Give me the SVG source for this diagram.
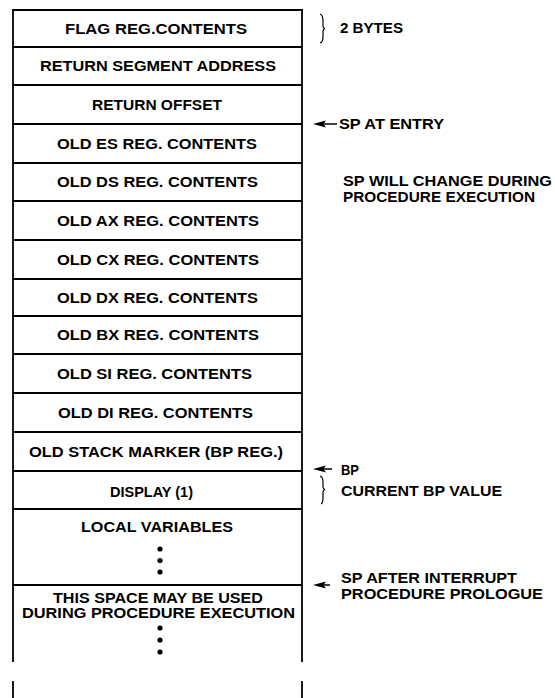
<svg xmlns="http://www.w3.org/2000/svg" width="555" height="698" viewBox="0 0 555 698">
<style>
.ln{stroke:#000;stroke-width:1.8;fill:none}
.t{font-family:"Liberation Sans",Arial,sans-serif;font-weight:bold;font-size:14.5px;fill:#000;text-anchor:middle}
.r{font-family:"Liberation Sans",Arial,sans-serif;font-weight:bold;font-size:15px;fill:#000}
.br{stroke:#000;stroke-width:1.2;fill:none}
.dot{fill:#000}
.ar{stroke:#000;stroke-width:1.5;fill:none}
.ah{fill:#000}
</style>
<rect width="555" height="698" fill="#fff"/>
<g id="frame">
<line class="ln" x1="13" y1="10" x2="13" y2="662"/>
<line class="ln" x1="302" y1="10" x2="302" y2="662"/>
<line class="ln" x1="13" y1="681" x2="13" y2="698"/>
<line class="ln" x1="302" y1="681" x2="302" y2="698"/>
<line class="ln" x1="12" y1="10" x2="303" y2="10"/>
</g>
<g id="n1"><line class="ln" x1="13" y1="47" x2="302" y2="47"/><text class="t" x="156" y="33.5" textLength="182" lengthAdjust="spacingAndGlyphs">FLAG REG.CONTENTS</text></g>
<g id="n2"><line class="ln" x1="13" y1="85" x2="302" y2="85"/><text class="t" x="158" y="71" textLength="236" lengthAdjust="spacingAndGlyphs">RETURN SEGMENT ADDRESS</text></g>
<g id="n3"><line class="ln" x1="13" y1="124" x2="302" y2="124"/><text class="t" x="157" y="109.5" textLength="130" lengthAdjust="spacingAndGlyphs">RETURN OFFSET</text></g>
<g id="n4"><line class="ln" x1="13" y1="163" x2="302" y2="163"/><text class="t" x="157" y="148.5" textLength="200" lengthAdjust="spacingAndGlyphs">OLD ES REG. CONTENTS</text></g>
<g id="n5"><line class="ln" x1="13" y1="201" x2="302" y2="201"/><text class="t" x="157.5" y="187" textLength="201" lengthAdjust="spacingAndGlyphs">OLD DS REG. CONTENTS</text></g>
<g id="n6"><line class="ln" x1="13" y1="240" x2="302" y2="240"/><text class="t" x="158" y="225.5" textLength="202" lengthAdjust="spacingAndGlyphs">OLD AX REG. CONTENTS</text></g>
<g id="n7"><line class="ln" x1="13" y1="279" x2="302" y2="279"/><text class="t" x="158" y="264.5" textLength="202" lengthAdjust="spacingAndGlyphs">OLD CX REG. CONTENTS</text></g>
<g id="n8"><line class="ln" x1="13" y1="316" x2="302" y2="316"/><text class="t" x="157.5" y="302.5" textLength="201" lengthAdjust="spacingAndGlyphs">OLD DX REG. CONTENTS</text></g>
<g id="n9"><line class="ln" x1="13" y1="354" x2="302" y2="354"/><text class="t" x="158" y="340" textLength="202" lengthAdjust="spacingAndGlyphs">OLD BX REG. CONTENTS</text></g>
<g id="n10"><line class="ln" x1="13" y1="393" x2="302" y2="393"/><text class="t" x="154.5" y="378.5" textLength="195" lengthAdjust="spacingAndGlyphs">OLD SI REG. CONTENTS</text></g>
<g id="n11"><line class="ln" x1="13" y1="432" x2="302" y2="432"/><text class="t" x="155.5" y="417.5" textLength="195" lengthAdjust="spacingAndGlyphs">OLD DI REG. CONTENTS</text></g>
<g id="n12"><line class="ln" x1="13" y1="471" x2="302" y2="471"/><text class="t" x="156" y="456.5" textLength="254" lengthAdjust="spacingAndGlyphs">OLD STACK MARKER (BP REG.)</text></g>
<g id="n13"><line class="ln" x1="13" y1="509" x2="302" y2="509"/><text class="t" x="151.5" y="497" textLength="83" lengthAdjust="spacingAndGlyphs">DISPLAY (1)</text></g>
<g id="n14"><line class="ln" x1="13" y1="585" x2="302" y2="585"/><text class="t" x="157" y="532" textLength="152" lengthAdjust="spacingAndGlyphs">LOCAL VARIABLES</text>
<circle class="dot" cx="160" cy="549" r="2.6"/><circle class="dot" cx="160" cy="560.5" r="2.6"/><circle class="dot" cx="160" cy="572" r="2.6"/></g>
<g id="n15"><text class="t" x="158" y="602.5" textLength="210" lengthAdjust="spacingAndGlyphs">THIS SPACE MAY BE USED</text><text class="t" x="158.5" y="618" textLength="273" lengthAdjust="spacingAndGlyphs">DURING PROCEDURE EXECUTION</text>
<circle class="dot" cx="160" cy="628" r="2.6"/><circle class="dot" cx="160" cy="640" r="2.6"/><circle class="dot" cx="160" cy="652" r="2.6"/></g>
<g id="lbl-bytes"><path class="br" d="M320,14 Q323,15 323,21 L323,26 Q323,28 325,28.5 Q323,29 323,31 L323,37 Q323,42 320,43"/><text class="r" x="340" y="33" textLength="63" lengthAdjust="spacingAndGlyphs">2 BYTES</text></g>
<g id="lbl-entry"><text class="r" x="339" y="129" textLength="105" lengthAdjust="spacingAndGlyphs">SP AT ENTRY</text></g>
<g id="lbl-change"><text class="r" x="343" y="186" textLength="209" lengthAdjust="spacingAndGlyphs">SP WILL CHANGE DURING</text><text class="r" x="343" y="202" textLength="192" lengthAdjust="spacingAndGlyphs">PROCEDURE EXECUTION</text></g>
<g id="lbl-bp"><text class="r" x="341" y="475" textLength="18" lengthAdjust="spacingAndGlyphs">BP</text><path class="br" d="M320,476 Q323,477 323,482 L323,487 Q323,489 325,489.5 Q323,490 323,492 L323,498 Q323,503 321,504"/><text class="r" x="341" y="495.5" textLength="161" lengthAdjust="spacingAndGlyphs">CURRENT BP VALUE</text></g>
<g id="lbl-sp"><text class="r" x="341" y="582.5" textLength="176" lengthAdjust="spacingAndGlyphs">SP AFTER INTERRUPT</text><text class="r" x="341" y="598.5" textLength="202" lengthAdjust="spacingAndGlyphs">PROCEDURE PROLOGUE</text></g>
<g id="connectors">
<line class="ar" x1="337" y1="124" x2="322" y2="124"/>
<path class="ah" d="M313,124 L326,120.5 L323.5,124 L326,127.5 Z"/>
<line class="ar" x1="332" y1="469" x2="322" y2="469"/>
<path class="ah" d="M313,469 L326,465.5 L323.5,469 L326,472.5 Z"/>
<line class="ar" x1="330" y1="585" x2="322" y2="585"/>
<path class="ah" d="M313,585 L326,581.5 L323.5,585 L326,588.5 Z"/>
</g>
</svg>
